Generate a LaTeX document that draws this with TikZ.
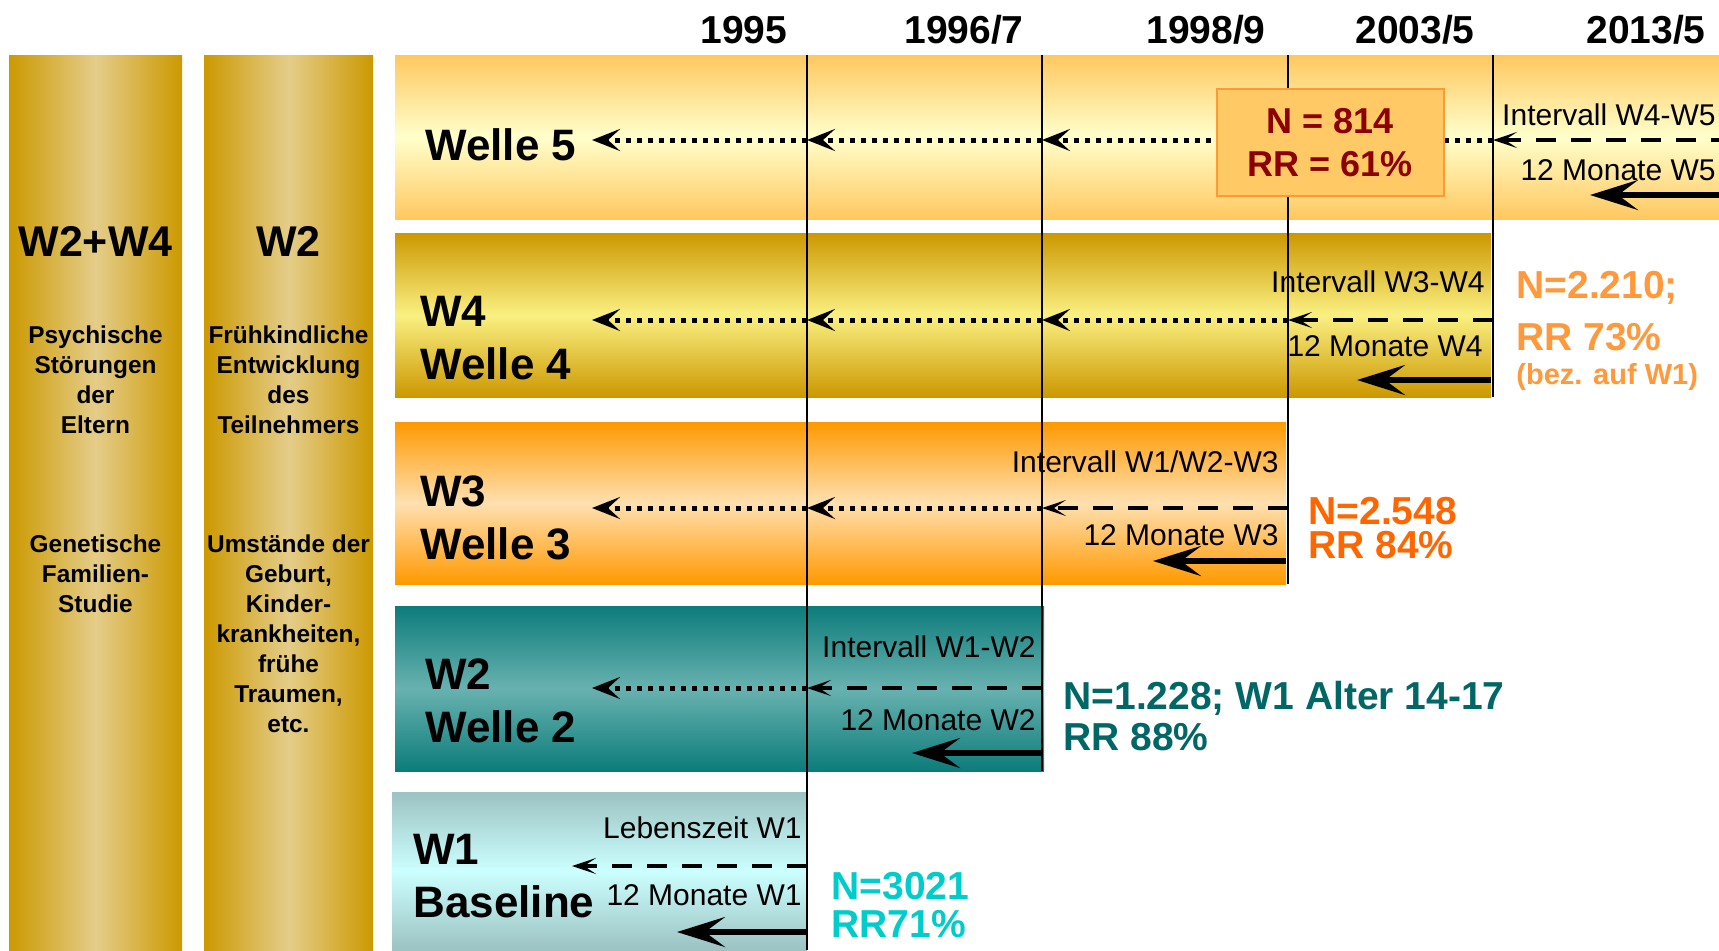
\documentclass[tikz,border=0pt]{standalone}
\usepackage{fontspec}
\setmainfont{Liberation Sans}
\usetikzlibrary{arrows.meta}

\definecolor{colgold}{RGB}{204,153,0}
\definecolor{colpale}{RGB}{228,205,138}
\definecolor{wfiveout}{RGB}{255,200,95}
\definecolor{wfivein}{RGB}{255,255,204}
\definecolor{wfourout}{RGB}{204,152,0}
\definecolor{wfourin}{RGB}{250,240,130}
\definecolor{wthreeout}{RGB}{255,153,0}
\definecolor{wthreein}{RGB}{255,224,176}
\definecolor{wtwoout}{RGB}{12,124,122}
\definecolor{wtwoin}{RGB}{104,178,176}
\definecolor{woneout}{RGB}{156,194,194}
\definecolor{wonein}{RGB}{204,255,255}
\definecolor{boxfill}{RGB}{255,202,102}
\definecolor{boxline}{RGB}{255,153,51}
\definecolor{nfive}{RGB}{140,0,0}
\definecolor{nfour}{RGB}{255,153,60}
\definecolor{nthree}{RGB}{255,102,0}
\definecolor{ntwo}{RGB}{0,102,102}
\definecolor{none}{RGB}{0,204,204}

\tikzset{
    year/.style={font=\fontsize{19.5}{23}\selectfont\bfseries},
    wave/.style={anchor=west, align=left, inner sep=0pt, font=\fontsize{22}{26.5}\selectfont\bfseries},
    colhead/.style={font=\fontsize{21.5}{26}\selectfont\bfseries},
    coltext/.style={align=center, font=\fontsize{12.2}{15}\selectfont\bfseries},
    ivlabel/.style={anchor=east, inner sep=0pt, font=\fontsize{15}{18}\selectfont},
    nrr/.style={anchor=west, inner sep=0pt, font=\fontsize{19.5}{23}\selectfont\bfseries},
    yearline/.style={line width=1.25pt},
    dotarrow/.style={line width=2.5pt, dash pattern=on 2.5pt off 3pt,
        -{Stealth[length=14pt, width=11pt, inset=6pt]}},
    dasharrow/.style={line width=2pt, dash pattern=on 10pt off 7.5pt,
        -{Stealth[length=12pt, width=8pt, inset=6pt]}},
    fullarrow/.style={line width=3pt, -{Stealth[length=24pt, width=15pt, inset=10pt]}}
}

\begin{document}
\begin{tikzpicture}[x=0.5pt, y=-0.5pt]
    \useasboundingbox (0,0) rectangle (1719,950);
    \clip (0,0) rectangle (1719,950);

    % Side columns
    \shade[left color=colgold, right color=colgold, middle color=colpale] (9,55) rectangle (182,950);
    \shade[left color=colgold, right color=colgold, middle color=colpale] (204,55) rectangle (373,950);

    % Wave bands
    \shade[top color=wfiveout, bottom color=wfiveout, middle color=wfivein] (395,55) rectangle (1719,219);
    \shade[top color=wfourout, bottom color=wfourout, middle color=wfourin] (395,233) rectangle (1491,397);
    \shade[top color=wthreeout, bottom color=wthreeout, middle color=wthreein] (395,422) rectangle (1286,584);
    \shade[top color=wtwoout, bottom color=wtwoout, middle color=wtwoin] (395,606) rectangle (1044,771);
    \shade[top color=woneout, bottom color=woneout, middle color=wonein] (392,792) rectangle (807,950);

    % Year lines
    \draw[yearline] (807,55) -- (807,950);
    \draw[yearline] (1042,55) -- (1042,771);
    \draw[yearline] (1288,55) -- (1288,584);
    \draw[yearline] (1493,55) -- (1493,397);

    % Years
    \node[year] (y95) at (744,30) {1995};
    \node[year] (y97) at (964,30) {1996/7};
    \node[year] (y99) at (1206,30) {1998/9};
    \node[year] (y03) at (1415,30) {2003/5};
    \node[year] (y13) at (1646,30) {2013/5};

    % Dotted arrows back in time
    \foreach \ya/\from/\to in {140/1493/1288, 140/1288/1042, 140/1042/807, 140/807/592,
                               320/1288/1042, 320/1042/807, 320/807/592,
                               508/1042/807, 508/807/592,
                               688/807/592} {
        \draw[dotarrow] (\from,\ya) -- (\to,\ya);
    }

    % Interval arrows (dashed)
    \foreach \ya/\from/\to in {140/1731/1493, 320/1493/1288, 508/1288/1042, 688/1042/807, 866/807/572} {
        \draw[dasharrow] (\from,\ya) -- (\to,\ya);
    }

    % 12-month arrows
    \foreach \ya/\from/\to in {195/1731/1590, 380/1491/1357, 561/1286/1153, 753/1042/912, 932/807/677} {
        \draw[fullarrow] (\from,\ya) -- (\to,\ya);
    }

    % Welle 5
    \node[wave] (w5) at (425,145) {Welle 5};
    \node[ivlabel] (iv5) at (1716,115) {Intervall W4-W5};
    \node[ivlabel] (mo5) at (1716,170) {12 Monate W5};
    \node[draw=boxline, fill=boxfill, line width=0.6pt, minimum width=113.5pt, minimum height=53.5pt,
          align=center, text=nfive, font=\fontsize{18}{21.5}\selectfont\bfseries] (n5) at (1330.5,142.5)
          {N = 814\\RR = 61\%};

    % Welle 4
    \node[wave] (w4) at (420,338) {W4\\Welle 4};
    \node[ivlabel] (iv4) at (1485,282) {Intervall W3-W4};
    \node[ivlabel] (mo4) at (1483,346) {12 Monate W4};
    \node[nrr, text=nfour] (n4) at (1516,288) {N=2.210;};
    \node[nrr, text=nfour] (rr4) at (1516,337) {RR 73\%};
    \node[nrr, text=nfour, font=\fontsize{14.5}{17}\selectfont\bfseries] (bez4) at (1516,377) {(bez. auf W1)};

    % Welle 3
    \node[wave] (w3) at (420,518) {W3\\Welle 3};
    \node[ivlabel] (iv3) at (1279,462) {Intervall W1/W2-W3};
    \node[ivlabel] (mo3) at (1279,535) {12 Monate W3};
    \node[nrr, text=nthree] (n3) at (1308,511) {N=2.548};
    \node[nrr, text=nthree] (rr3) at (1308,545) {RR 84\%};

    % Welle 2
    \node[wave] (w2) at (425,701) {W2\\Welle 2};
    \node[ivlabel] (iv2) at (1036,647) {Intervall W1-W2};
    \node[ivlabel] (mo2) at (1036,720) {12 Monate W2};
    \node[nrr, text=ntwo] (n2) at (1063,698) {N=1.228; W1 Alter 14-17};
    \node[nrr, text=ntwo] (rr2) at (1063,737) {RR 88\%};

    % Baseline
    \node[wave] (w1) at (413,876) {W1\\Baseline};
    \node[ivlabel] (iv1) at (802,828) {Lebenszeit W1};
    \node[ivlabel] (mo1) at (802,895) {12 Monate W1};
    \node[nrr, text=none] (n1) at (831,886) {N=3021};
    \node[nrr, text=none] (rr1) at (831,924) {RR71\%};

    % Column texts
    \node[colhead] (c1) at (95.5,241) {W2+W4};
    \node[colhead] (c2) at (288.5,241) {W2};
    \node[coltext] (c1a) at (95.5,380) {Psychische\\Störungen\\der\\Eltern};
    \node[coltext] (c1b) at (95.5,574) {Genetische\\Familien-\\Studie};
    \node[coltext] (c2a) at (288.5,380) {Frühkindliche\\Entwicklung\\des\\Teilnehmers};
    \node[coltext] (c2b) at (288.5,634) {Umstände der\\Geburt,\\Kinder-\\krankheiten,\\frühe\\Traumen,\\etc.};
\end{tikzpicture}
\end{document}
